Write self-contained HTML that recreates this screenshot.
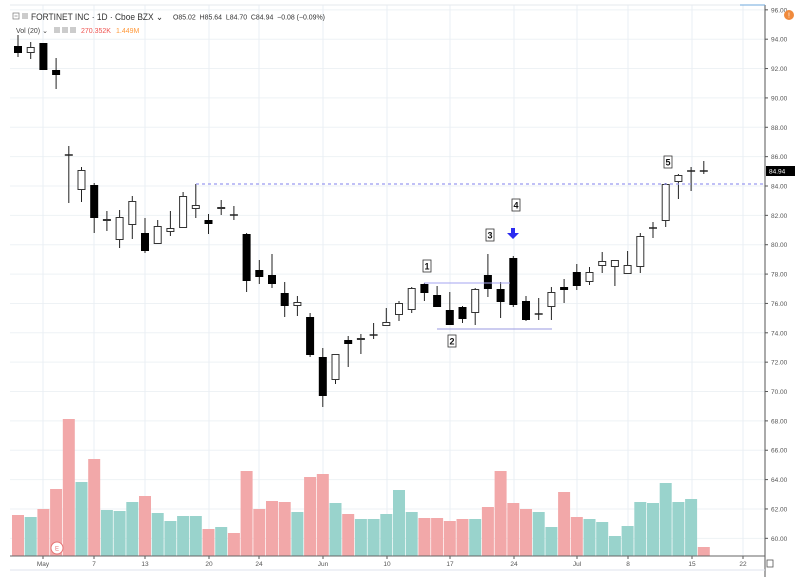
<!DOCTYPE html>
<html><head><meta charset="utf-8"><style>
html,body{margin:0;padding:0;background:#fff;width:795px;height:577px;overflow:hidden}
svg{display:block;font-family:"Liberation Sans",sans-serif}
</style></head><body>
<svg id="s" width="795" height="577" xmlns="http://www.w3.org/2000/svg"></svg>
<script>
const s=document.getElementById('s');let h='';
const Y=p=>186-(p-84)*14.68;
for(let p=60;p<=96;p+=2){const y=Y(p);h+=`<line x1="10" x2="765" y1="${y}" y2="${y}" stroke="#eef2f5" stroke-width="1"/>`;
h+=`<line x1="765" x2="768" y1="${y}" y2="${y}" stroke="#555"/><text x="771" y="${y+2.5}" font-size="6.5" fill="#555">${p.toFixed(2)}</text>`;}
const dl=[[43,'May'],[94,'7'],[145,'13'],[209,'20'],[259,'24'],[323,'Jun'],[387,'10'],[450,'17'],[514,'24'],[577,'Jul'],[628,'8'],[692,'15'],[743,'22']];
dl.forEach(([x,t])=>{h+=`<line x1="${x}" x2="${x}" y1="5" y2="556" stroke="#e9eff4"/><line x1="${x}" x2="${x}" y1="556" y2="559" stroke="#555"/><text x="${x}" y="566" font-size="6.5" fill="#555" text-anchor="middle">${t}</text>`;});
h+=`<line x1="10" x2="765" y1="5" y2="5" stroke="#e6eaee"/><line x1="765" x2="765" y1="5" y2="577" stroke="#555"/><line x1="10" x2="765" y1="570" y2="570" stroke="#dfe3ec"/>`;
h+=`<line x1="740" x2="765" y1="5" y2="5" stroke="#6fa8dc"/>`;
const vol=[[515,'R'],[517,'G'],[509,'R'],[489,'R'],[419,'R'],[482,'G'],[459,'R'],[510,'G'],[511,'G'],[502,'G'],[496,'R'],[513,'G'],[521,'G'],[516,'G'],[516,'G'],[529,'R'],[527,'G'],[533,'R'],[471,'R'],[509,'R'],[501,'R'],[502,'R'],[512,'G'],[477,'R'],[474,'R'],[503,'G'],[514,'R'],[519,'G'],[519,'G'],[514,'G'],[490,'G'],[512,'G'],[518,'R'],[518,'R'],[521,'R'],[519,'R'],[519,'G'],[507,'R'],[471,'R'],[503,'R'],[509,'R'],[512,'G'],[527,'G'],[492,'R'],[517,'R'],[519,'G'],[522,'G'],[536,'G'],[526,'G'],[502,'G'],[503,'G'],[483,'G'],[502,'G'],[499,'G'],[547,'R']];
const X=i=>18+i*12.7;
vol.forEach(([t,c],i)=>{h+=`<rect x="${X(i)-6}" y="${t}" width="12" height="${556-t}" fill="${c=='R'?'#f2a8a9':'#99d3cc'}"/>`;});
h+=`<line x1="10" x2="765" y1="556" y2="556" stroke="#666"/>`;
h+=`<circle cx="57" cy="548" r="6" fill="#fff" stroke="#e57373"/><text x="57" y="550.5" font-size="6" fill="#e57373" text-anchor="middle">E</text>`;
const c=[[35,57,46,53,1],[42,59,47,53,0],[43,70,43,70,1],[58,89,70,75,1],[146,203,155,156,2],[167,202,170,190,0],[183,233,185,218,1],[211,231,219,221,0],[210,248,217,240,0],[196,239,201,225,0],[218,253,233,251,1],[220,244,226,244,0],[211,236,228,232,0],[192,228,196,228,0],[184,218,205,209,0],[214,234,220,224,1],[200,215,207,209,0],[206,220,215,216,2],[233,292,234,281,1],[260,284,270,277,1],[254,288,275,284,1],[282,317,293,306,1],[296,316,302,306,0],[313,357,317,355,1],[348,407,357,396,1],[354,384,354,380,0],[336,367,340,344,1],[334,354,338,340,0],[323,339,335,336,2],[308,326,322,326,0],[301,321,303,315,0],[287,313,288,310,0],[283,301,284,293,1],[286,307,295,307,1],[292,325,310,325,1],[306,323,307,319,1],[288,325,289,313,0],[254,297,275,289,1],[282,318,289,302,1],[256,307,258,305,1],[296,321,301,320,1],[298,320,314,314,2],[287,320,292,307,0],[279,303,287,290,1],[264,290,272,286,1],[267,285,272,282,0],[252,273,261,266,0],[260,286,260,267,0],[251,274,265,274,0],[233,273,236,267,0],[222,238,228,229,2],[183,227,184,221,0],[174,199,175,182,0],[167,191,171,171,2],[161,174,171,171,2]];
c.forEach(([wt,wb,bt,bb,t],i)=>{const x=X(i);
h+=`<line x1="${x}" x2="${x}" y1="${wt}" y2="${wb}" stroke="#222" stroke-width="1"/>`;
if(t==2||bb-bt<1.5){h+=`<line x1="${x-4}" x2="${x+4}" y1="${bt}" y2="${bt}" stroke="#222" stroke-width="1.5"/>`;}
else if(t==1){h+=`<rect x="${x-4}" y="${bt}" width="8" height="${bb-bt}" fill="#000"/>`;}
else{h+=`<rect x="${x-3.5}" y="${bt+.5}" width="7" height="${bb-bt-1}" fill="#fff" stroke="#333" stroke-width="1"/>`;}
});
h+=`<line x1="196" x2="765" y1="184" y2="184" stroke="#9a9af0" stroke-width="1.2" stroke-dasharray="3,3"/>`;
h+=`<line x1="424" x2="510" y1="283" y2="283" stroke="#a6a6f0" stroke-width="1"/><line x1="437" x2="552" y1="329" y2="329" stroke="#9a9ae0" stroke-width="1"/>`;
[[427,266,'1'],[452,341,'2'],[490,235,'3'],[516,205,'4'],[668,162,'5']].forEach(([x,y,t])=>{h+=`<rect x="${x-4}" y="${y-6}" width="8" height="12" fill="#fff" stroke="#333" stroke-width=".8"/><text x="${x}" y="${y+3.5}" font-size="9" font-weight="bold" text-anchor="middle" fill="#111">${t}</text>`;});
h+=`<path d="M511 228 h4 v5 h4 l-6 6 l-6 -6 h4z" fill="#2b2bf0"/>`;
h+=`<rect x="766" y="166" width="29" height="10" fill="#000"/><text x="769" y="173.5" font-size="6.5" fill="#fff">84.94</text>`;
h+=`<circle cx="789" cy="15" r="5" fill="#f08a3c"/><text x="789" y="17.5" font-size="7" fill="#fff" text-anchor="middle">!</text>`;
h+=`<rect x="13" y="13" width="6" height="6" fill="none" stroke="#777" stroke-width=".7"/><line x1="14.5" x2="17.5" y1="16" y2="16" stroke="#777" stroke-width=".7"/><rect x="22" y="13" width="6" height="6" fill="#ccc"/>`;
h+=`<text x="31" y="20" font-size="9.5" fill="#333" textLength="132" lengthAdjust="spacingAndGlyphs">FORTINET INC · 1D · Cboe BZX ⌄</text>`;
h+=`<text x="173" y="19.5" font-size="7" fill="#333" textLength="152" lengthAdjust="spacingAndGlyphs">O85.02&#160; H85.64&#160; L84.70&#160; C84.94&#160; −0.08 (−0.09%)</text>`;
h+=`<text x="16" y="33" font-size="7" fill="#444">Vol (20) ⌄</text><rect x="54" y="27" width="6" height="6" fill="#ccc"/><rect x="62" y="27" width="6" height="6" fill="#ccc"/><rect x="70" y="27" width="6" height="6" fill="#ccc"/>`;
h+=`<text x="81" y="33" font-size="7" fill="#ef5350">270.352K</text><text x="116" y="33" font-size="7" fill="#ff9a3c">1.449M</text>`;
h+=`<rect x="767" y="560" width="6" height="7" fill="none" stroke="#555" stroke-width=".8"/>`;
s.innerHTML=h;
</script>
</body></html>
